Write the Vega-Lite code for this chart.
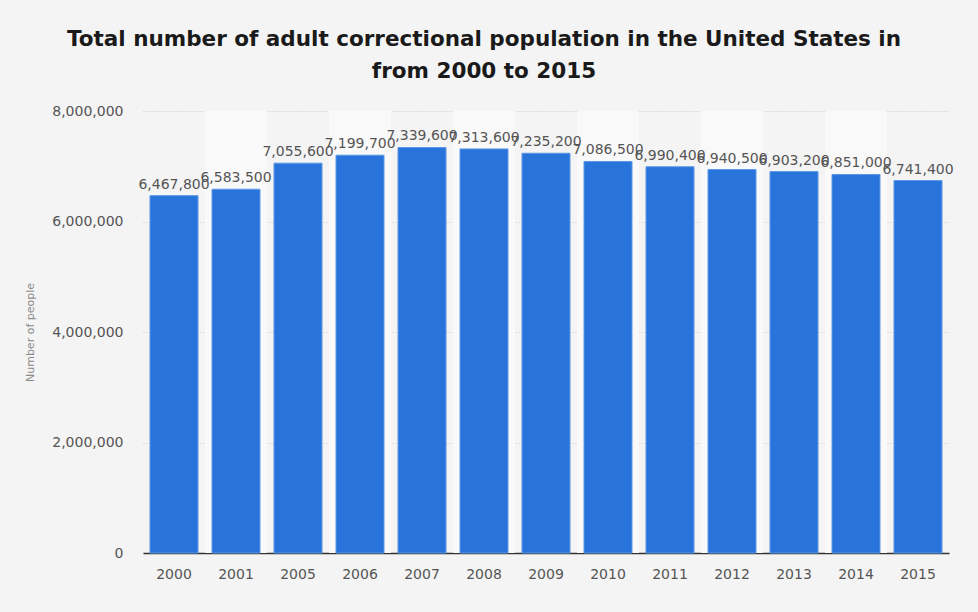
{
  "$schema": "https://vega.github.io/schema/vega-lite/v6.json",
  "autosize": "none",
  "width": 806,
  "height": 442,
  "padding": {"left": 143, "top": 111, "right": 29, "bottom": 59},
  "background": "#f4f4f4",
  "title": {
    "text": ["Total number of adult correctional population in the United States in", "from 2000 to 2015"],
    "font": "DejaVu Sans",
    "fontSize": 21.5,
    "fontWeight": "bold",
    "color": "#1a1a1a",
    "lineHeight": 32,
    "anchor": "middle",
    "dx": -62,
    "offset": 22
  },
  "config": {
    "view": {"stroke": null},
    "font": "DejaVu Sans"
  },
  "data": {
    "values": [
      {"year": "2000", "people": 6467800},
      {"year": "2001", "people": 6583500},
      {"year": "2005", "people": 7055600},
      {"year": "2006", "people": 7199700},
      {"year": "2007", "people": 7339600},
      {"year": "2008", "people": 7313600},
      {"year": "2009", "people": 7235200},
      {"year": "2010", "people": 7086500},
      {"year": "2011", "people": 6990400},
      {"year": "2012", "people": 6940500},
      {"year": "2013", "people": 6903200},
      {"year": "2014", "people": 6851000},
      {"year": "2015", "people": 6741400}
    ]
  },
  "encoding": {
    "x": {
      "field": "year",
      "type": "ordinal",
      "scale": {
        "domain": ["2000", "2001", "2005", "2006", "2007", "2008", "2009", "2010", "2011", "2012", "2013", "2014", "2015"],
        "paddingInner": 0.226,
        "paddingOuter": 0.113
      },
      "axis": {
        "title": null,
        "labelAngle": 0,
        "labelFontSize": 14,
        "labelColor": "#555555",
        "labelPadding": 14,
        "tickSize": 0,
        "domainColor": "#333333",
        "domainWidth": 1.5
      }
    }
  },
  "layer": [
    {
      "transform": [
        {"window": [{"op": "row_number", "as": "rn"}]},
        {"filter": "datum.rn % 2 == 0"}
      ],
      "mark": {"type": "bar", "color": "#f9f9f9", "width": {"band": 1.29}},
      "encoding": {}
    },
    {
      "mark": {"type": "bar", "color": "#2874db", "stroke": "#5b97e6", "strokeWidth": 1},
      "encoding": {
        "y": {
          "field": "people",
          "type": "quantitative",
          "scale": {"domain": [0, 8000000], "nice": false},
          "axis": {
            "title": "Number of people",
            "titleFontSize": 11,
            "titleFontWeight": "normal",
            "titleColor": "#8a8a8a",
            "titlePadding": 16,
            "values": [0, 2000000, 4000000, 6000000, 8000000],
            "format": ",d",
            "labelFontSize": 14,
            "labelColor": "#555555",
            "labelPadding": 20,
            "tickSize": 0,
            "domain": false,
            "grid": true,
            "gridColor": "#c8c8c8",
            "gridDash": [1, 2]
          }
        }
      }
    },
    {
      "mark": {"type": "text", "baseline": "bottom", "dy": -4, "fontSize": 14, "color": "#555555"},
      "encoding": {
        "y": {"field": "people", "type": "quantitative"},
        "text": {"field": "people", "type": "quantitative", "format": ",d"}
      }
    }
  ]
}
